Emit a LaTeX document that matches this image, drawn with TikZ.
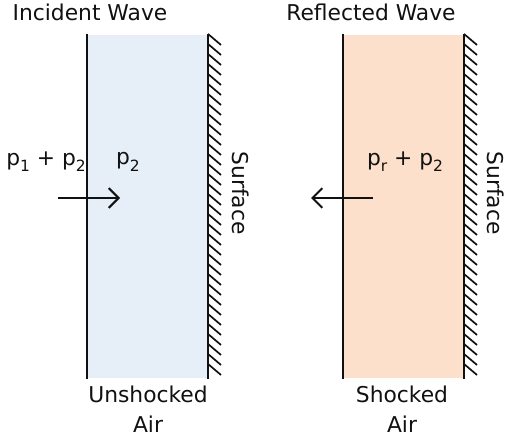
\documentclass[tikz,border=0pt]{standalone}
\usepackage{fontspec}
\setmainfont{DejaVu Sans}
\usetikzlibrary{arrows.meta, calc}
\definecolor{cblue}{HTML}{E6EEF7}
\definecolor{corange}{HTML}{FDE0CB}
\definecolor{cink}{HTML}{111111}
\newcommand{\lowsub}[1]{\raisebox{-4.5pt}{\fontsize{11}{11}\selectfont #1}}
\tikzset{
  every picture/.style={line width=1.4pt},
  panel/.style={fill=#1, draw=none, minimum width=2.975cm, minimum height=8.575cm, inner sep=0pt},
  lbl/.style={font=\fontsize{15.5}{21}\selectfont, text=cink, align=center, inner sep=0pt},
  arrow/.style={-{Straight Barb[length=7pt, width=14pt]}, draw=cink, line width=1.4pt},
  hatch/.style={draw=cink, line width=1.2pt},
}
\begin{document}
\begin{tikzpicture}[x=0.025cm, y=-0.025cm]
  \useasboundingbox (0,0) rectangle (507,439);
  % panels
  \node[panel=cblue] (inc) at (147.5,206.5) {};
  \node[panel=corange] (ref) at (403.5,206.5) {};
  \draw[cink] (inc.north west) -- (inc.south west);
  \draw[cink] (ref.north west) -- (ref.south west);
  \draw[cink] (inc.north east) -- (inc.south east);
  \draw[cink] (ref.north east) -- (ref.south east);
  % surfaces
  \foreach \p in {inc, ref}
    \foreach \y in {0,10,...,330}
      \draw[hatch] ($(\p.north east)+(0,\y)$) -- ++(13,11);
  % titles
  \node[lbl] (tinc) at (90,12) {Incident Wave};
  \node[lbl] (tref) at (371,12) {Reflected Wave};
  % pressures
  \node[lbl] (pinc) at (46,162) {p\lowsub{1} + p\lowsub{2}};
  \node[lbl] (pin2) at (128,162) {p\lowsub{2}};
  \node[lbl] (pref) at (405,162) {p\lowsub{r} + p\lowsub{2}};
  % arrows
  \coordinate (a1) at (58,198);
  \coordinate (b1) at (120,198);
  \coordinate (a2) at (373,198);
  \coordinate (b2) at (311,198);
  \draw[arrow] (a1) -- (b1);
  \draw[arrow] (a2) -- (b2);
  % walls
  \node[lbl, rotate=-90] (sinc) at (241,193) {Surface};
  \node[lbl, rotate=-90] (sref) at (496,193) {Surface};
  % air
  \node[lbl, text height=12pt, text depth=3pt] (ainc) at (148,426) {Unshocked\\Air};
  \node[lbl, text height=12pt, text depth=3pt] (aref) at (402,426) {Shocked\\Air};
\end{tikzpicture}
\end{document}
